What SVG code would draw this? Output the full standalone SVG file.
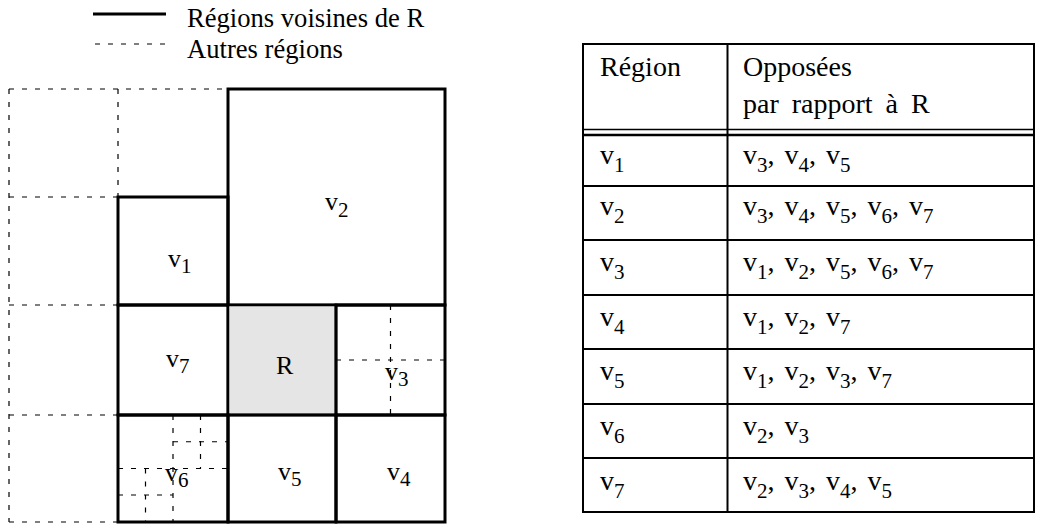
<svg xmlns="http://www.w3.org/2000/svg" width="1039" height="529" viewBox="0 0 1039 529">
<style>
text{font-family:"Liberation Serif","Times New Roman",serif;fill:#000}
.lg{font-size:26.6px}
.lb{font-size:26px}
.hd{font-size:28px}
.row{font-size:28px;word-spacing:3px}
.sub{font-size:21px}
.solid{fill:none;stroke:#000;stroke-width:3}
.dash{fill:none;stroke:#000;stroke-width:1.2;stroke-dasharray:5 8}
.tb{fill:none;stroke:#000;stroke-width:2}
</style>
<rect width="1039" height="529" fill="#fff"/>
<g id="legend">
<line x1="93" y1="14" x2="166" y2="14" stroke="#000" stroke-width="3"/>
<text class="lg" x="187" y="27">Régions voisines de R</text>
<line x1="95" y1="44" x2="168" y2="44" class="dash"/>
<text class="lg" x="187" y="58">Autres régions</text>
</g>
<g id="connectors">
<path class="dash" d="M9,89H228 M9,89V522 M118,89V197 M9,197H118 M9,305H118 M9,415H118 M9,522H118"/>
<path class="dash" d="M390.5,305V415 M336,360H445"/>
<path class="dash" d="M173,415V522 M200.5,415V468.5 M173,441.75H228 M118,468.5H228 M145.5,468.5V522 M118,495H173"/>
</g>
<g id="v2"><rect class="solid" x="228" y="89" width="217" height="216"/><text class="lb" x="325" y="210">v<tspan class="sub" font-size="19" dy="7">2</tspan></text></g>
<g id="v1"><rect class="solid" x="118" y="197" width="110" height="108"/><text class="lb" x="168" y="267">v<tspan class="sub" font-size="19" dy="6">1</tspan></text></g>
<g id="v7"><rect class="solid" x="118" y="305" width="110" height="110"/><text class="lb" x="166" y="367">v<tspan class="sub" font-size="19" dy="6">7</tspan></text></g>
<g id="R"><rect x="228" y="305" width="108" height="110" fill="#e5e5e5" stroke="#000" stroke-width="2.5"/><text class="lb" x="276" y="374">R</text></g>
<g id="v3"><rect class="solid" x="336" y="305" width="109" height="110"/><text class="lb" x="385" y="380">v<tspan class="sub" font-size="19" dy="6">3</tspan></text></g>
<g id="v6"><rect class="solid" x="118" y="415" width="110" height="107"/><text class="lb" x="165" y="481">v<tspan class="sub" font-size="19" dy="6">6</tspan></text></g>
<g id="v5"><rect class="solid" x="228" y="415" width="108" height="107"/><text class="lb" x="278" y="480">v<tspan class="sub" font-size="19" dy="6">5</tspan></text></g>
<g id="v4"><rect class="solid" x="336" y="415" width="109" height="107"/><text class="lb" x="387" y="480">v<tspan class="sub" font-size="19" dy="6">4</tspan></text></g>
<g id="table">
<rect class="tb" x="583" y="44" width="451" height="468"/>
<line class="tb" x1="727.5" y1="44" x2="727.5" y2="512"/>
<line x1="583" y1="129.5" x2="1034" y2="129.5" stroke="#000" stroke-width="1.5"/>
<line x1="583" y1="135" x2="1034" y2="135" stroke="#000" stroke-width="2.5"/>
<path class="tb" d="M583,186H1034 M583,240H1034 M583,295H1034 M583,349H1034 M583,404H1034 M583,458H1034"/>
<text class="hd" x="600" y="76">Région</text>
<text class="hd" x="743" y="76">Opposées</text>
<text class="hd" x="743" y="113" word-spacing="6">par rapport à R</text>
<text class="row" x="600" y="164">v<tspan class="sub" dy="8">1</tspan></text>
<text class="row" x="743" y="164">v<tspan class="sub" dy="8">3</tspan><tspan dy="-8">, v</tspan><tspan class="sub" dy="8">4</tspan><tspan dy="-8">, v</tspan><tspan class="sub" dy="8">5</tspan></text>
<text class="row" x="600" y="215">v<tspan class="sub" dy="8">2</tspan></text>
<text class="row" x="743" y="215">v<tspan class="sub" dy="8">3</tspan><tspan dy="-8">, v</tspan><tspan class="sub" dy="8">4</tspan><tspan dy="-8">, v</tspan><tspan class="sub" dy="8">5</tspan><tspan dy="-8">, v</tspan><tspan class="sub" dy="8">6</tspan><tspan dy="-8">, v</tspan><tspan class="sub" dy="8">7</tspan></text>
<text class="row" x="600" y="271">v<tspan class="sub" dy="8">3</tspan></text>
<text class="row" x="743" y="271">v<tspan class="sub" dy="8">1</tspan><tspan dy="-8">, v</tspan><tspan class="sub" dy="8">2</tspan><tspan dy="-8">, v</tspan><tspan class="sub" dy="8">5</tspan><tspan dy="-8">, v</tspan><tspan class="sub" dy="8">6</tspan><tspan dy="-8">, v</tspan><tspan class="sub" dy="8">7</tspan></text>
<text class="row" x="600" y="326">v<tspan class="sub" dy="8">4</tspan></text>
<text class="row" x="743" y="326">v<tspan class="sub" dy="8">1</tspan><tspan dy="-8">, v</tspan><tspan class="sub" dy="8">2</tspan><tspan dy="-8">, v</tspan><tspan class="sub" dy="8">7</tspan></text>
<text class="row" x="600" y="380">v<tspan class="sub" dy="8">5</tspan></text>
<text class="row" x="743" y="380">v<tspan class="sub" dy="8">1</tspan><tspan dy="-8">, v</tspan><tspan class="sub" dy="8">2</tspan><tspan dy="-8">, v</tspan><tspan class="sub" dy="8">3</tspan><tspan dy="-8">, v</tspan><tspan class="sub" dy="8">7</tspan></text>
<text class="row" x="600" y="435">v<tspan class="sub" dy="8">6</tspan></text>
<text class="row" x="743" y="435">v<tspan class="sub" dy="8">2</tspan><tspan dy="-8">, v</tspan><tspan class="sub" dy="8">3</tspan></text>
<text class="row" x="600" y="490">v<tspan class="sub" dy="8">7</tspan></text>
<text class="row" x="743" y="490">v<tspan class="sub" dy="8">2</tspan><tspan dy="-8">, v</tspan><tspan class="sub" dy="8">3</tspan><tspan dy="-8">, v</tspan><tspan class="sub" dy="8">4</tspan><tspan dy="-8">, v</tspan><tspan class="sub" dy="8">5</tspan></text>
</g>
</svg>
